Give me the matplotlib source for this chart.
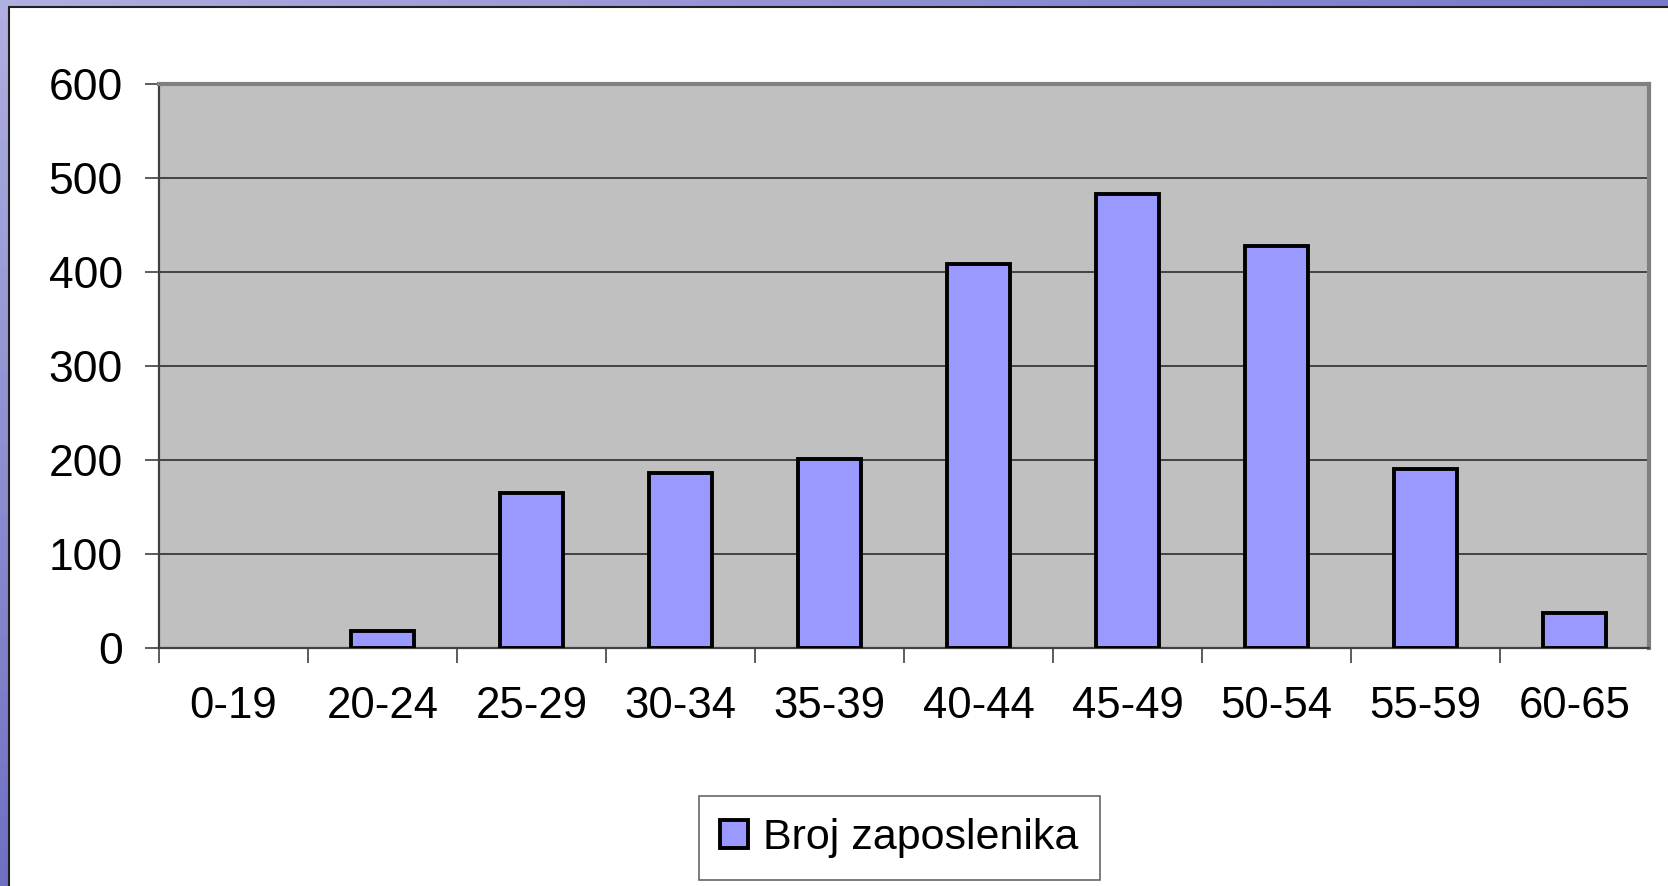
import matplotlib
matplotlib.use("Agg")
import matplotlib.pyplot as plt
import numpy as np
from matplotlib.patches import Rectangle, Patch

categories = ["0-19", "20-24", "25-29", "30-34", "35-39", "40-44", "45-49", "50-54", "55-59", "60-65"]
values = [0, 18, 165, 186, 201, 408, 483, 428, 190, 37]
series_name = "Broj zaposlenika"
yticks = [0, 100, 200, 300, 400, 500, 600]

plt.rcParams['font.family'] = ['Liberation Sans', 'DejaVu Sans']

W, H = 1668, 886
fig = plt.figure(figsize=(W/100, H/100), dpi=100)

# slide background: blue gradient strip on the left and top
bg = fig.add_axes([0, 0, 1, 1])
bg.set_axis_off()
xx = np.linspace(0, 1, 100)[None, :]
yy = np.linspace(0, 1, 50)[:, None]
top = np.array([175, 175, 225]) / 255
right = np.array([85, 85, 190]) / 255
bottom = np.array([70, 70, 175]) / 255
t = np.clip(0.6 * xx + 0.6 * yy, 0, 1)[..., None]
grad = top * (1 - t) + (right * xx[..., None] + bottom * (1 - xx[..., None])) * t
bg.imshow(grad, extent=[0, 1, 0, 1], aspect='auto', origin='upper')
bg.set_xlim(0, 1); bg.set_ylim(0, 1)
bg.add_patch(Rectangle((9/W, -0.01), 1.0, 1 - 7/H + 0.01, facecolor='white',
                       edgecolor='#202020', linewidth=1.5, transform=bg.transAxes))

ax = fig.add_axes([159/W, 1 - 648/H, (1649 - 159)/W, (648 - 84)/H])
ax.set_facecolor('#C0C0C0')
x = np.arange(len(categories)) + 0.5
edges = ['black' if v > 0 else 'none' for v in values]
ax.bar(x, values, width=0.42, color='#9999FF', edgecolor=edges, linewidth=2.8, zorder=3)
ax.set_xlim(0, len(categories))
ax.set_ylim(0, 600)
for v in yticks[1:-1]:
    ax.axhline(v, color='#202020', linewidth=1.1, zorder=1)

ax.set_yticks(yticks)
ax.set_yticklabels([str(v) for v in yticks])
ax.set_xticks(np.arange(len(categories)))
ax.set_xticklabels([])
ax.set_xticks(x, minor=True)
ax.set_xticklabels(categories, minor=True)
ax.tick_params(axis='y', length=10, width=1.2, color='#404040', pad=16, labelsize=32, direction='out')
ax.tick_params(axis='x', which='major', length=11, width=1.2, color='#404040', direction='out')
ax.tick_params(axis='x', which='minor', length=0, pad=27, labelsize=31.5)

for s in ['left', 'bottom']:
    ax.spines[s].set_color('#404040')
    ax.spines[s].set_linewidth(1.6)
for s in ['top', 'right']:
    ax.spines[s].set_color('#808080')
    ax.spines[s].set_linewidth(3)

leg = fig.legend(handles=[Patch(facecolor='#9999FF', edgecolor='black', linewidth=2.8, label=series_name)],
                 loc='center', bbox_to_anchor=((704 + 1095) / 2 / W, 1 - 838 / H),
                 fontsize=31, frameon=True, fancybox=False, handlelength=0.65, handleheight=0.65,
                 handletextpad=0.35, borderpad=0.5)
leg.get_frame().set_edgecolor('#404040')
leg.get_frame().set_linewidth(1.2)

fig.savefig("out.png", dpi=100)
